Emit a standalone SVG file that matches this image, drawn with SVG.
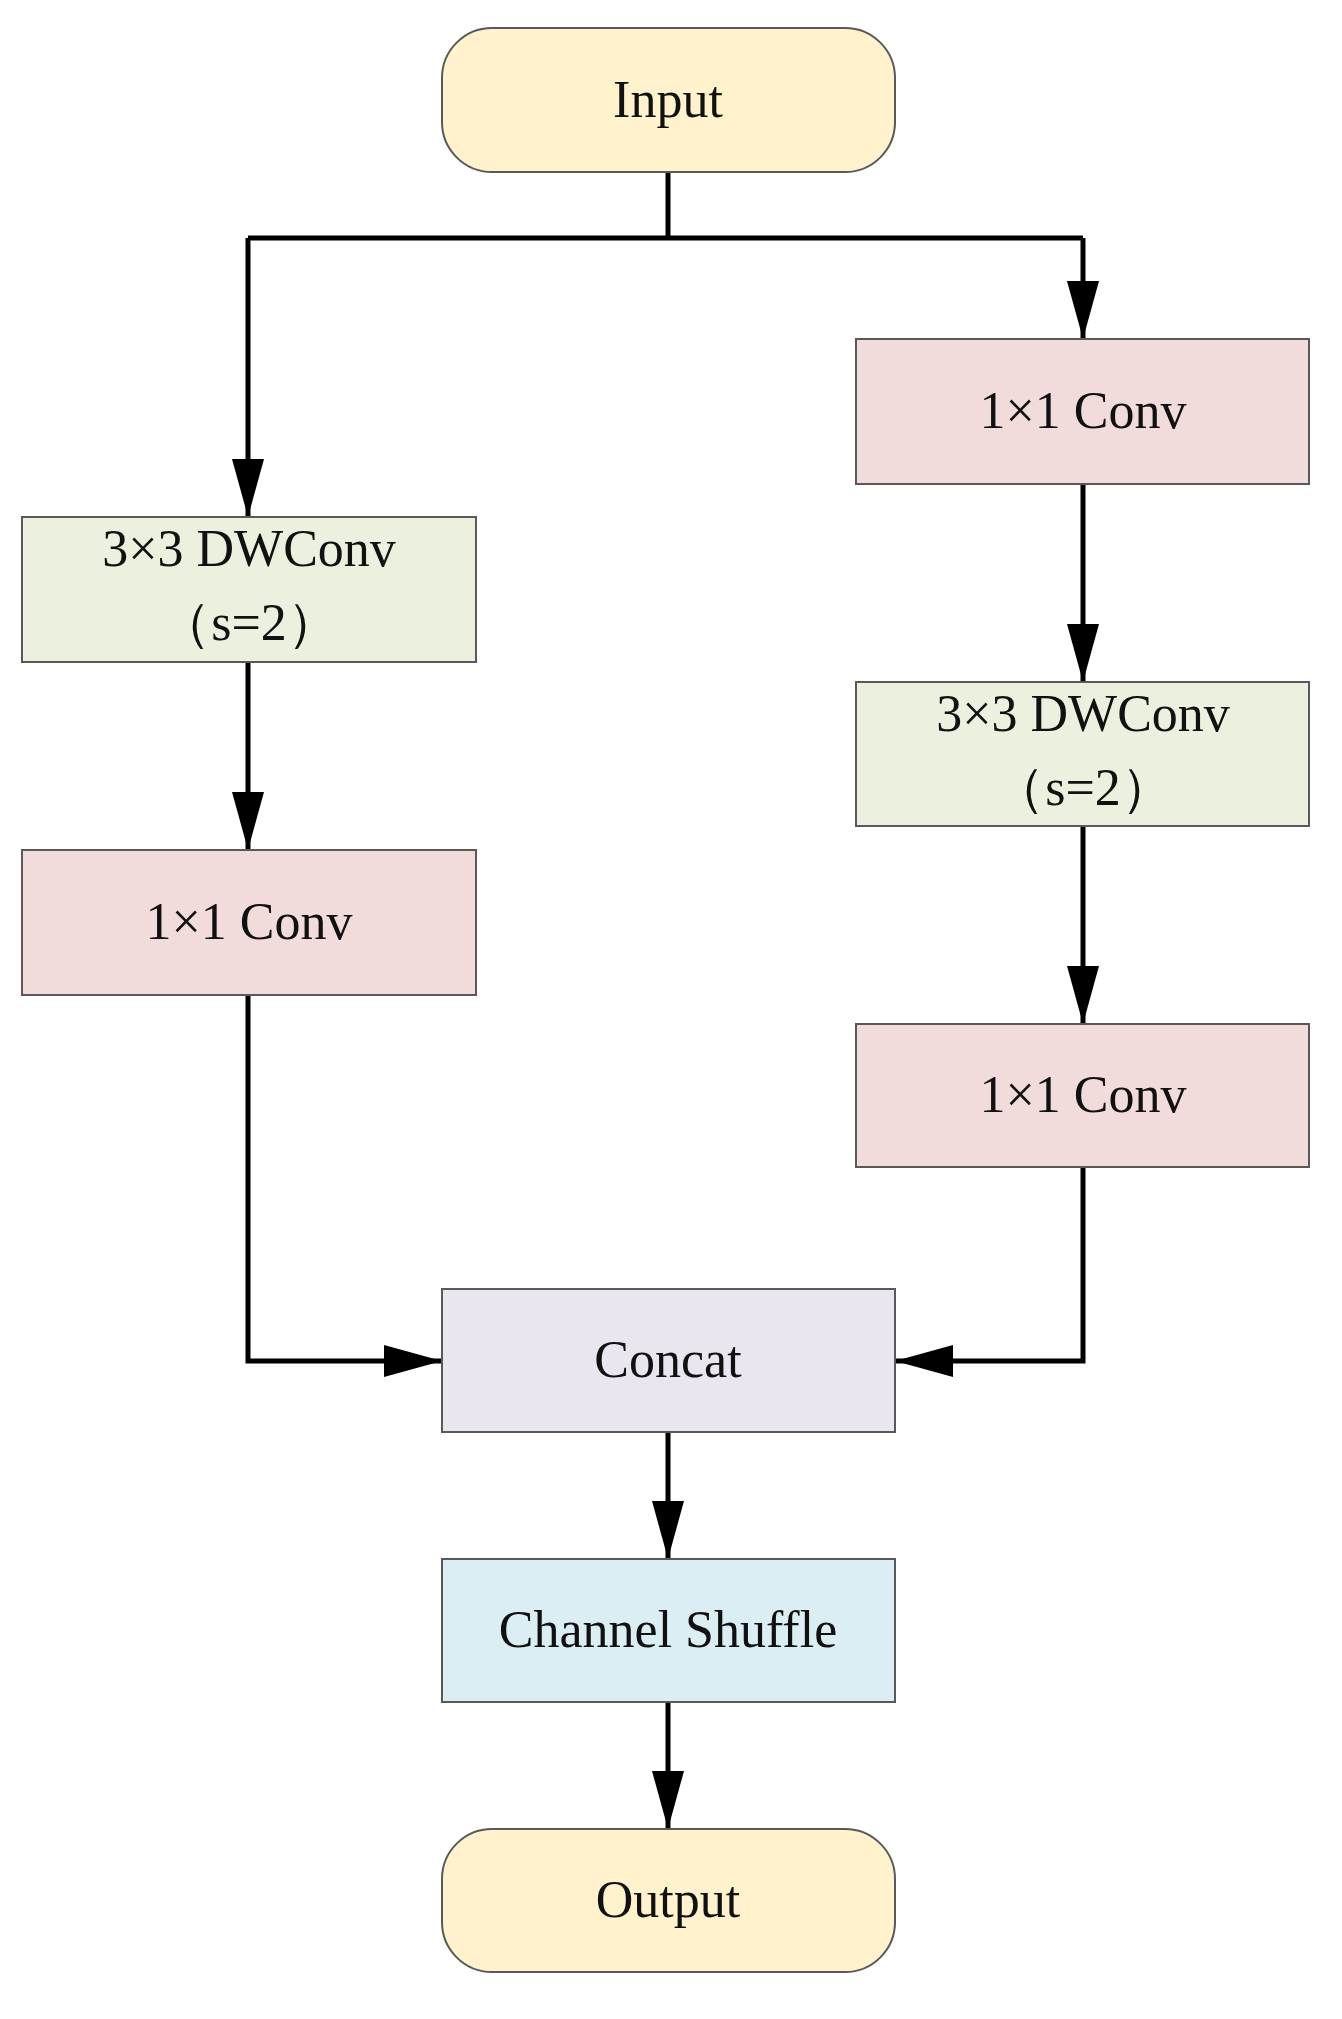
<svg xmlns="http://www.w3.org/2000/svg" width="1342" height="2019" viewBox="0 0 1342 2019">
<style>
.b{stroke:#595959;stroke-width:2}
.t{font-family:"Liberation Serif",serif;font-size:52px;fill:#111;text-anchor:middle}
.c{fill:none;stroke:#000;stroke-width:5}
</style>
<defs><marker id="a" markerUnits="userSpaceOnUse" markerWidth="58" markerHeight="32" refX="58" refY="16" orient="auto"><path d="M0,0 L58,16 L0,32 Z" fill="#000"/></marker></defs>
<rect width="1342" height="2019" fill="#fff"/>
<g id="connectors">
<path class="c" d="M668,172 V238 M248,238 H1083"/>
<path class="c" d="M248,238 V517" marker-end="url(#a)"/>
<path class="c" d="M1083,238 V339" marker-end="url(#a)"/>
<path class="c" d="M248,662 V850" marker-end="url(#a)"/>
<path class="c" d="M1083,484 V682" marker-end="url(#a)"/>
<path class="c" d="M1083,826 V1024" marker-end="url(#a)"/>
<path class="c" d="M248,995 V1361 H442" marker-end="url(#a)"/>
<path class="c" d="M1083,1167 V1361 H895" marker-end="url(#a)"/>
<path class="c" d="M668,1432 V1559" marker-end="url(#a)"/>
<path class="c" d="M668,1702 V1829" marker-end="url(#a)"/>
</g>
<g id="input"><rect class="b" x="442" y="28" width="453" height="144" rx="50" fill="#FFF2CC"/><text class="t" x="668" y="117">Input</text></g>
<g id="r1"><rect class="b" x="856" y="339" width="453" height="145" fill="#F2DCDB"/><text class="t" x="1083" y="428">1×1 Conv</text></g>
<g id="l1"><rect class="b" x="22" y="517" width="454" height="145" fill="#EBF1DE"/><text class="t" x="249" y="566">3×3 DWConv</text><text class="t" x="249" y="640">（s=2）</text></g>
<g id="r2"><rect class="b" x="856" y="682" width="453" height="144" fill="#EBF1DE"/><text class="t" x="1083" y="731">3×3 DWConv</text><text class="t" x="1083" y="805">（s=2）</text></g>
<g id="l2"><rect class="b" x="22" y="850" width="454" height="145" fill="#F2DCDB"/><text class="t" x="249" y="939">1×1 Conv</text></g>
<g id="r3"><rect class="b" x="856" y="1024" width="453" height="143" fill="#F2DCDB"/><text class="t" x="1083" y="1112">1×1 Conv</text></g>
<g id="concat"><rect class="b" x="442" y="1289" width="453" height="143" fill="#EAE6EF"/><text class="t" x="668" y="1377">Concat</text></g>
<g id="shuffle"><rect class="b" x="442" y="1559" width="453" height="143" fill="#DBEEF3"/><text class="t" x="668" y="1647">Channel Shuffle</text></g>
<g id="output"><rect class="b" x="442" y="1829" width="453" height="143" rx="50" fill="#FFF2CC"/><text class="t" x="668" y="1917">Output</text></g>
</svg>
